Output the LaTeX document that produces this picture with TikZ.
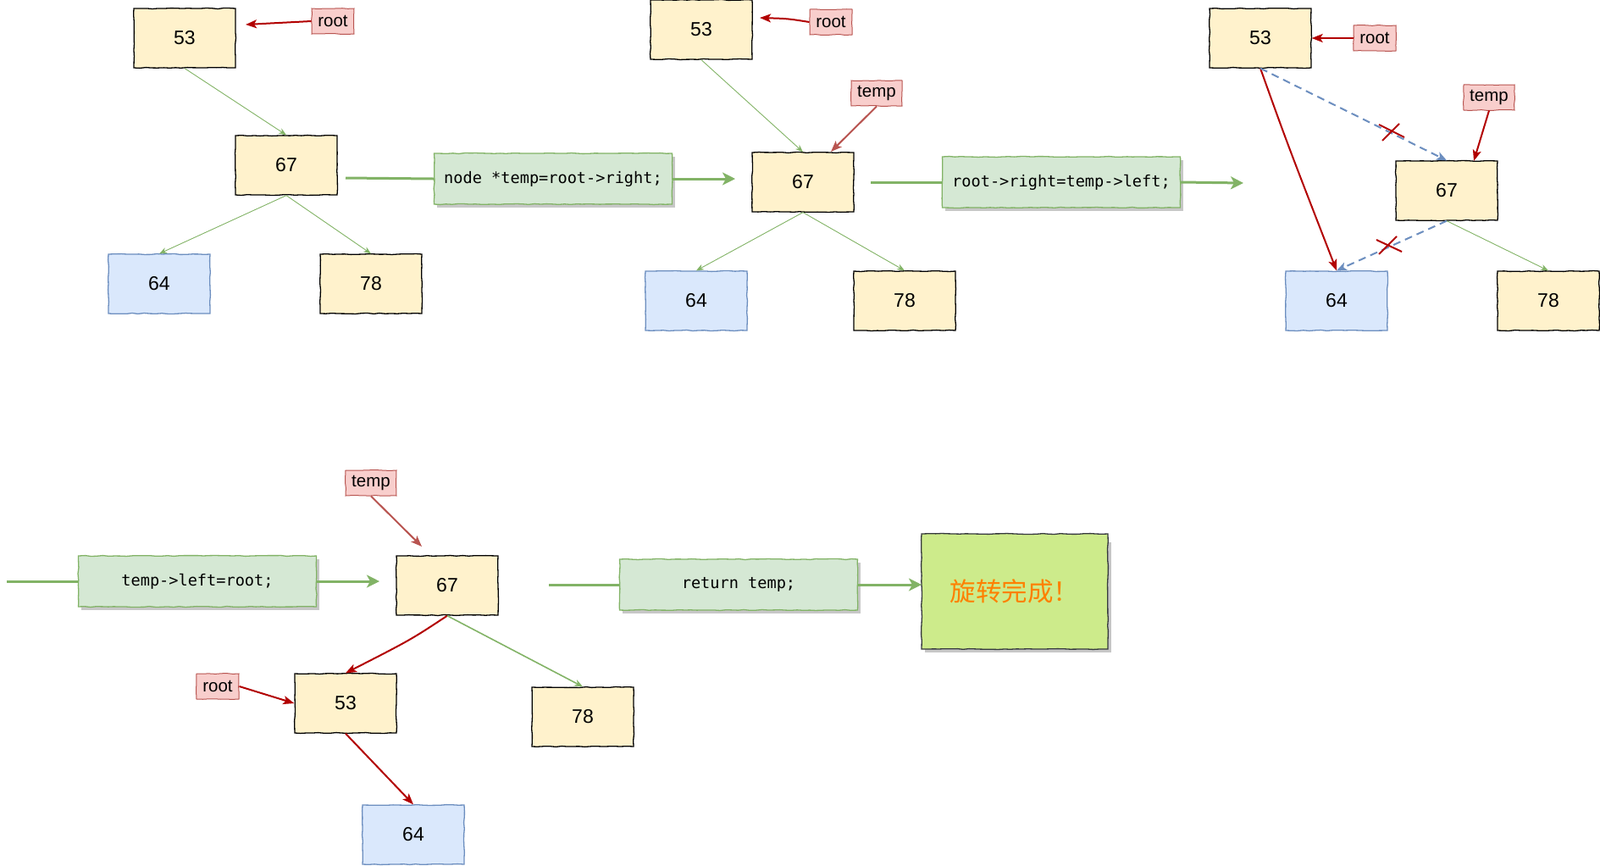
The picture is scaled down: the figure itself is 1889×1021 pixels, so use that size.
\documentclass[tikz,border=0pt]{standalone}
\usepackage{fontspec}
\setmainfont{Liberation Sans}
\newfontfamily\codefont{DejaVu Sans Mono}
\newfontfamily\cjkfont{Noto Sans CJK SC}
\usetikzlibrary{arrows.meta,decorations.pathmorphing,calc}
\definecolor{yfill}{HTML}{FFF2CC}
\definecolor{bfill}{HTML}{DAE8FC}
\definecolor{bdraw}{HTML}{6C8EBF}
\definecolor{rfill}{HTML}{F8CECC}
\definecolor{rdraw}{HTML}{B85450}
\definecolor{gfill}{HTML}{D5E8D4}
\definecolor{gdraw}{HTML}{82B366}
\definecolor{darkred}{HTML}{B20000}
\definecolor{donefill}{HTML}{CDEB8B}
\definecolor{donedraw}{HTML}{36393D}
\definecolor{orangetxt}{HTML}{FF8000}
\tikzset{
  sketchy/.style={decorate,decoration={random steps,segment length=7pt,amplitude=0.5pt}},
  ybox/.style={sketchy,draw=black,fill=yfill,line width=1.3pt,minimum width=120pt,minimum height=70pt,inner sep=0pt,font=\fontsize{23}{25}\selectfont},
  bbox/.style={ybox,draw=bdraw,fill=bfill},
  lbl/.style={sketchy,draw=rdraw,fill=rfill,line width=1pt,minimum height=30pt,inner sep=0pt,font=\fontsize{20.5}{22}\selectfont},
  codebox/.style={sketchy,draw=gdraw,fill=gfill,line width=1.3pt,minimum width=281pt,minimum height=60pt,inner sep=0pt,font=\codefont\fontsize{18.6}{20}\selectfont},
  shadowbox/.style={fill=black!22,minimum width=281pt,minimum height=60pt,inner sep=0pt},
  thinedge/.style={draw=gdraw,line width=0.9pt,-{Stealth[length=9pt,width=7pt]}},
  flow/.style={draw=gdraw,line width=3pt},
  flowarrow/.style={draw=gdraw,line width=3pt,-{Stealth[length=15pt,width=15pt,inset=4pt]}},
  redarrow/.style={draw=darkred,line width=2pt,-{Stealth[length=13pt,width=10pt,inset=3pt]}},
  lredarrow/.style={draw=rdraw,line width=2pt,-{Stealth[length=13pt,width=10pt,inset=3pt]}},
  bluedash/.style={draw=bdraw,line width=2pt,dash pattern=on 9pt off 6pt,-{Stealth[length=12pt,width=10pt,inset=3pt]}},
  crossmark/.style={draw=darkred,line width=2pt},
}
\begin{document}
\begin{tikzpicture}[x=1pt,y=-1pt]
\useasboundingbox (0,0) rectangle (1889,1021);

% ---------- group 1 ----------
\node[ybox] (a53) at (218,45) {53};
\node[lbl,minimum width=50pt] (aroot) at (393,25) {root};
\node[ybox] (a67) at (338,195) {67};
\node[bbox] (a64) at (188,335) {64};
\node[ybox] (a78) at (438,335) {78};
\coordinate (a53r) at (290,29);
\draw[redarrow] (aroot.west) -- (a53r);
\draw[thinedge] (a53.south) -- (a67.north);
\draw[thinedge] (a67.south) -- (a64.north);
\draw[thinedge] (a67.south) -- (a78.north);
\node[shadowbox] at (656,215) {};
\node[codebox] (code1) at (653,211) {node *temp=root->right;};
\coordinate (c1s) at (408,210);
\coordinate (c1e) at (868,211);
\draw[flow] (c1s) -- (code1.west);
\draw[flowarrow] (code1.east) -- (c1e);

% ---------- group 2 ----------
\node[ybox] (b53) at (828,35) {53};
\node[lbl,minimum width=50pt] (broot) at (981,26) {root};
\node[lbl,minimum width=60pt] (btemp) at (1035,110) {temp};
\node[ybox] (b67) at (948,215) {67};
\node[bbox] (b64) at (822,355) {64};
\node[ybox] (b78) at (1068,355) {78};
\coordinate (b53r) at (897,21);
\coordinate (b67t) at (981,179);
\draw[redarrow] (broot.west) .. controls (930,22) .. (b53r);
\draw[lredarrow] (btemp.south) -- (b67t);
\draw[thinedge] (b53.south) -- (b67.north);
\draw[thinedge] (b67.south) -- (b64.north);
\draw[thinedge] (b67.south) -- (b78.north);
\node[shadowbox] at (1256,219) {};
\node[codebox] (code2) at (1253,215) {root->right=temp->left;};
\coordinate (c2s) at (1028,215);
\coordinate (c2e) at (1468,216);
\draw[flow] (c2s) -- (code2.west);
\draw[flowarrow] (code2.east) -- (c2e);

% ---------- group 3 ----------
\node[ybox] (c53) at (1488,45) {53};
\node[lbl,minimum width=50pt] (croot) at (1623,45) {root};
\node[lbl,minimum width=60pt] (ctemp) at (1758,115) {temp};
\node[ybox] (c67) at (1708,225) {67};
\node[bbox] (c64) at (1578,355) {64};
\node[ybox] (c78) at (1828,355) {78};
\coordinate (c67t) at (1740,190);
\draw[redarrow] (croot.west) -- (c53.east);
\draw[redarrow] (ctemp.south) -- (c67t);
\draw[redarrow] (c53.south) .. controls (1520,170) .. (c64.north);
\draw[bluedash] (c53.south) -- (c67.north);
\draw[bluedash] (c67.south) -- (c64.north);
\draw[thinedge] (c67.south) -- (c78.north);
\draw[crossmark] (1628,147) -- (1658,162);
\draw[crossmark] (1632,166) -- (1652,146);
\draw[crossmark] (1625,283) -- (1655,297);
\draw[crossmark] (1628,300) -- (1649,279);

% ---------- group 4 ----------
\coordinate (c3s) at (8,686);
\node[shadowbox] at (236,690) {};
\node[codebox] (code3) at (233,686) {temp->left=root;};
\coordinate (c3e) at (448,686);
\draw[flow] (c3s) -- (code3.west);
\draw[flowarrow] (code3.east) -- (c3e);

\node[lbl,minimum width=60pt] (dtemp) at (438,570) {temp};
\node[ybox] (d67) at (528,691) {67};
\node[ybox] (d53) at (408,830) {53};
\node[lbl,minimum width=50pt] (droot) at (257,810) {root};
\node[bbox] (d64) at (488,985) {64};
\node[ybox] (d78) at (688,846) {78};
\coordinate (d67t) at (498,645);
\draw[lredarrow] (dtemp.south) -- (d67t);
\draw[redarrow] (d67.south) .. controls (485,755) .. (d53.north);
\draw[redarrow] (droot.east) -- (d53.west);
\draw[redarrow] (d53.south) -- (d64.north);
\draw[draw=gdraw,line width=1.6pt,-{Stealth[length=10pt,width=8pt]}] (d67.south) -- (d78.north);

\coordinate (c4s) at (648,690);
\node[shadowbox] at (875,694) {};
\node[codebox] (code4) at (872,690) {return temp;};
\coordinate (c4e) at (1088,690);
\draw[flow] (c4s) -- (code4.west);
\draw[flowarrow] (code4.east) -- (c4e);

\fill[black!22] (1092,640) rectangle (1312,770);
\node[sketchy,draw=donedraw,fill=donefill,line width=1.3pt,minimum width=220pt,minimum height=136pt,inner sep=0pt,text=orangetxt,font=\cjkfont\fontsize{30.5}{33}\selectfont] (done) at (1198,698) {旋转完成！};
\end{tikzpicture}
\end{document}
